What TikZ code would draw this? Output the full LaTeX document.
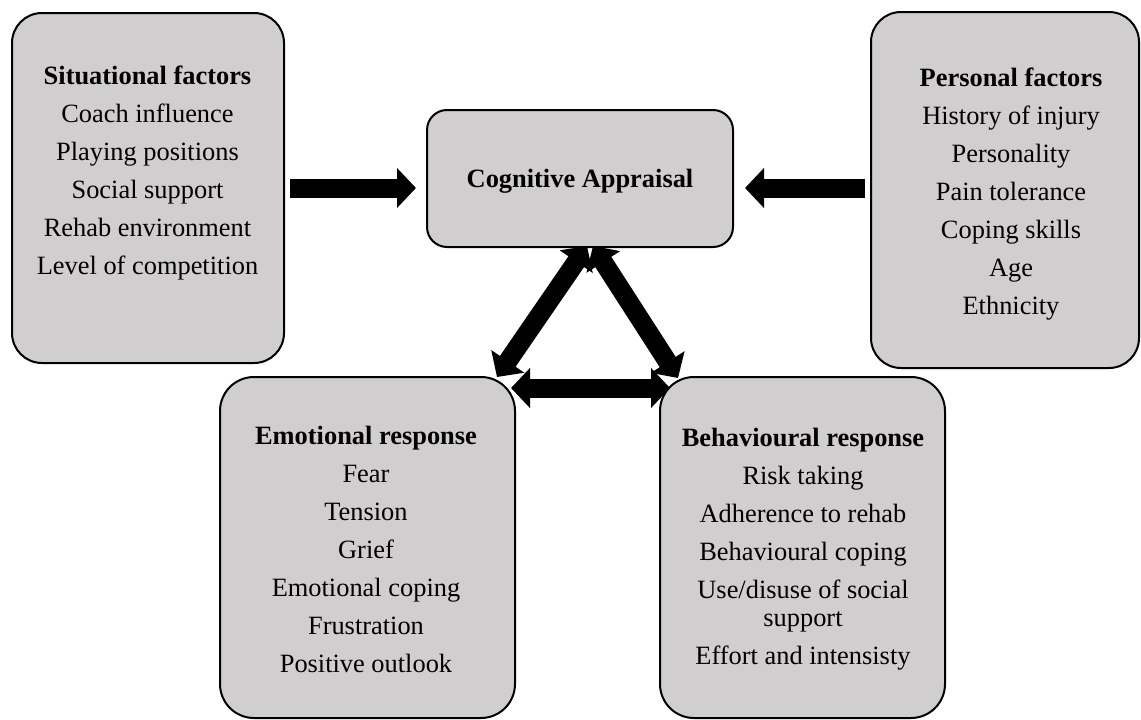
\documentclass[tikz,border=0pt]{standalone}
\usepackage{fontspec}
\setmainfont{Liberation Serif}
\usetikzlibrary{arrows.meta}

\definecolor{boxgray}{HTML}{D0CECE}

\tikzset{
  panel/.style={draw=black, line width=2pt, fill=boxgray, outer sep=0pt,
                inner sep=0pt, rounded corners=#1},
  panel/.default=30pt,
  itemtext/.style={align=center, inner sep=0pt, outer sep=0pt,
                   font=\fontsize{26.4}{28}\selectfont},
  bigarrow/.style={line width=19pt, -{Triangle[width=39pt,length=19pt]}},
  bigdouble/.style={line width=19pt, {Triangle[width=39pt,length=19pt]}-{Triangle[width=39pt,length=19pt]}},
}

\begin{document}
\begin{tikzpicture}[x=1pt, y=-1pt]
  \useasboundingbox (0,0) rectangle (1141,720);

  % boxes
  \node[panel, minimum width=272pt, minimum height=350pt] (sit) at (148,188) {};
  \node[panel, minimum width=268pt, minimum height=356pt] (per) at (1005,190) {};
  \node[panel=20pt, minimum width=306pt, minimum height=137pt] (cog) at (580,178.5) {};
  \node[panel=34pt, minimum width=295pt, minimum height=341pt] (emo) at (367.5,547.5) {};
  \node[panel=34pt, minimum width=285pt, minimum height=341pt] (beh) at (802.5,547.5) {};

  % box contents
  \node[itemtext, anchor=north] (sit-t) at (147.5,66) {%
    \textbf{Situational factors}\\[10pt]
    Coach influence\\[10pt]
    Playing positions\\[10pt]
    Social support\\[10pt]
    Rehab environment\\[10pt]
    Level of competition};
  \node[itemtext, anchor=north] (per-t) at (1011,68) {%
    \textbf{Personal factors}\\[10pt]
    History of injury\\[10pt]
    Personality\\[10pt]
    Pain tolerance\\[10pt]
    Coping skills\\[10pt]
    Age\\[10pt]
    Ethnicity};
  \node[itemtext, anchor=base] (cog-t) at (580,187) {\textbf{Cognitive Appraisal}};
  \node[itemtext, anchor=north] (emo-t) at (366,426) {%
    \textbf{Emotional response}\\[10pt]
    Fear\\[10pt]
    Tension\\[10pt]
    Grief\\[10pt]
    Emotional coping\\[10pt]
    Frustration\\[10pt]
    Positive outlook};
  \node[itemtext, anchor=north] (beh-t) at (803,428) {%
    \textbf{Behavioural response}\\[10pt]
    Risk taking\\[10pt]
    Adherence to rehab\\[10pt]
    Behavioural coping\\[10pt]
    Use/disuse of social\\
    support\\[10pt]
    Effort and intensisty};

  % arrows into the appraisal
  \draw[bigarrow] ([xshift=6pt]sit.east) -- ([xshift=-11pt]cog.west |- sit.east);
  \draw[bigarrow] ([xshift=-6pt]per.west |- sit.east) -- ([xshift=12pt]cog.east |- sit.east);

  % two-way links between appraisal and responses
  \draw[bigdouble] ([xshift=7pt,yshift=1pt]cog.south) -- ([xshift=-18pt]emo.north east);
  \draw[bigdouble] ([xshift=13pt,yshift=1pt]cog.south) -- ([xshift=18pt,yshift=-1pt]beh.north west);
  \draw[bigdouble] ([xshift=-4pt,yshift=-11pt]emo.north east) -- ([xshift=10pt,yshift=-11pt]beh.north west);
\end{tikzpicture}
\end{document}
